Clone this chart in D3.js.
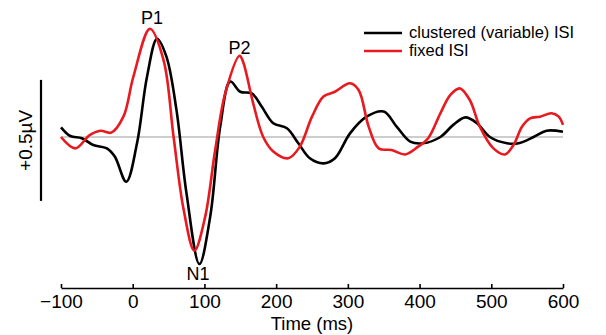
<!DOCTYPE html>
<html>
<head>
<meta charset="utf-8">
<script src="https://cdn.jsdelivr.net/npm/d3@7"></script>
<style>
  body { margin: 0; background: #fff; }
  svg text { font-family: "Liberation Sans", Arial, sans-serif; fill: #000; }
</style>
</head>
<body>
<div id="chart"></div>
<script>
// ERP traces, time in ms, amplitude in µV
var blackTime = [-100, -87, -71, -55, -36, -25, -9, 6, 20, 34, 47, 61, 75, 93, 108, 122, 136, 150, 166, 180,
                 196, 215, 231, 247, 266, 282, 303, 326, 350, 368, 387, 405, 429, 447, 464, 480, 498, 522, 538, 559, 577, 600];
var blackAmp = [0.04, 0.004, -0.005, -0.033, -0.047, -0.081, -0.185, -0.026, 0.25, 0.406, 0.332, 0.112, -0.233, -0.525, -0.33, 0.043, 0.229, 0.187, 0.18, 0.125,
                0.057, 0.036, -0.026, -0.088, -0.109, -0.088, 0.015, 0.084, 0.105, 0.043, -0.019, -0.026, 0, 0.05, 0.081, 0.057, 0, -0.026, -0.026, 0, 0.026, 0.022];

var redTime = [-100, -80, -60, -45, -30, -13, 1, 24, 43, 57, 71, 86, 101, 115, 129, 149, 154, 168, 182,
               196, 217, 233, 250, 266, 282, 303, 315, 329, 343, 361, 380, 398, 412, 429, 443, 456, 470, 484, 503, 519, 531, 543, 554, 568, 584, 594, 600];
var redAmp = [0.0, -0.047, 0.008, 0.026, 0.018, 0.084, 0.25, 0.447, 0.318, 0.0, -0.30, -0.47, -0.33, -0.054, 0.18, 0.336, 0.31, 0.139, 0.0,
              -0.06, -0.088, -0.04, 0.084, 0.167, 0.187, 0.222, 0.194, 0.043, -0.047, -0.054, -0.072, -0.04, -0.005, 0.098, 0.174, 0.201, 0.153, 0.043, -0.047, -0.072, -0.033, 0.043, 0.077, 0.084, 0.098, 0.084, 0.05];

var seriesNames = ["clustered (variable) ISI", "fixed ISI"];
var seriesColors = ["#000000", "#e8191f"];
var xTicks = [-100, 0, 100, 200, 300, 400, 500, 600];
var peakLabels = [
  { name: "P1", t: 27, v: 0.465 },
  { name: "P2", t: 149, v: 0.345 },
  { name: "N1", t: 91, v: -0.59 }
];
var scaleBar = [0.236, -0.264]; // 0.5 µV

var width = 606, height = 335;

var svg = d3.select("#chart").append("svg")
    .attr("width", width)
    .attr("height", height);

var x = d3.scaleLinear().domain([-100, 600]).range([61, 563]);
var y = d3.scaleLinear().domain([0, 1]).range([137, 137 - 242]);

// zero line
svg.append("line")
    .attr("x1", x(-100)).attr("x2", x(600))
    .attr("y1", y(0)).attr("y2", y(0))
    .attr("stroke", "#bdbdbd")
    .attr("stroke-width", 1.5);

var line = d3.line()
    .x(function(d) { return x(d[0]); })
    .y(function(d) { return y(d[1]); })
    .curve(d3.curveCatmullRom.alpha(0.5));

var black = d3.zip(blackTime, blackAmp),
    red = d3.zip(redTime, redAmp);

svg.append("path").datum(black)
    .attr("d", line)
    .attr("fill", "none")
    .attr("stroke", seriesColors[0])
    .attr("stroke-width", 2.6);

svg.append("path").datum(red)
    .attr("d", line)
    .attr("fill", "none")
    .attr("stroke", seriesColors[1])
    .attr("stroke-width", 2.6);

// x axis
var xAxis = d3.axisBottom(x)
    .tickValues(xTicks)
    .tickSizeInner(-4)
    .tickSizeOuter(0)
    .tickPadding(10);

var gx = svg.append("g")
    .attr("transform", "translate(0,288)")
    .call(xAxis);
gx.select(".domain").attr("stroke", "#000").attr("stroke-width", 1.6);
gx.selectAll(".tick line").attr("stroke", "#000").attr("stroke-width", 1.6);
gx.selectAll(".tick text")
    .attr("y", 20)
    .attr("dy", null)
    .style("font-size", "19px")
    .style("font-family", "'Liberation Sans', Arial, sans-serif");

svg.append("text")
    .attr("x", x(250))
    .attr("y", 330)
    .attr("text-anchor", "middle")
    .style("font-size", "18.5px")
    .text("Time (ms)");

// scale bar
svg.append("line")
    .attr("x1", 41).attr("x2", 41)
    .attr("y1", y(scaleBar[0])).attr("y2", y(scaleBar[1]))
    .attr("stroke", "#000")
    .attr("stroke-width", 2.2);

svg.append("text")
    .attr("transform", "translate(32," + y(d3.mean(scaleBar)) + ") rotate(-90)")
    .attr("text-anchor", "middle")
    .style("font-size", "19px")
    .text("+0.5µV");

// peak labels
svg.selectAll("text.peak")
    .data(peakLabels)
    .enter().append("text")
    .attr("class", "peak")
    .attr("x", function(d) { return x(d.t); })
    .attr("y", function(d) { return y(d.v); })
    .attr("text-anchor", "middle")
    .style("font-size", "18px")
    .text(function(d) { return d.name; });

// legend
var legend = svg.selectAll("g.legend")
    .data(seriesNames)
    .enter().append("g")
    .attr("class", "legend")
    .attr("transform", function(d, i) { return "translate(364," + (33 + i * 18) + ")"; });

legend.append("line")
    .attr("x1", 0).attr("x2", 38)
    .attr("stroke", function(d, i) { return seriesColors[i]; })
    .attr("stroke-width", 2.6);

legend.append("text")
    .attr("x", 45)
    .attr("y", 5)
    .style("font-size", "16.5px")
    .text(function(d) { return d; });
</script>
</body>
</html>
